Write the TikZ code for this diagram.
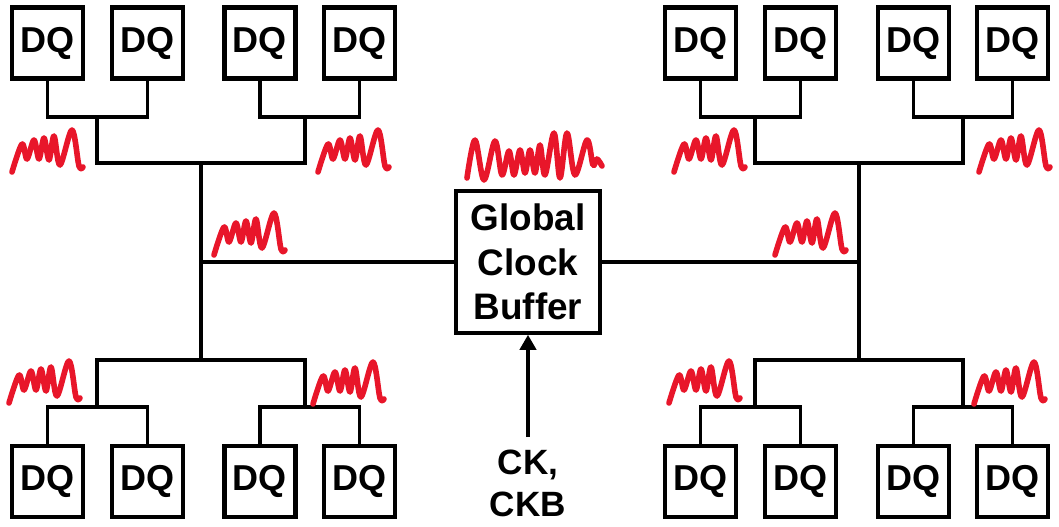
\documentclass[tikz,border=0pt]{standalone}
\usepackage{fontspec}
\setmainfont{Liberation Sans}
\usepackage{xcolor}
\usepackage{tikz}
\usetikzlibrary{arrows.meta}

\definecolor{noiseRed}{RGB}{232,22,42}

\begin{document}
\begin{tikzpicture}[
			x=0.02cm,
			y=-0.02cm,
			% Data-pin blocks
			dqBox/.style={
				rectangle,
				draw=black,
				line width=2.3pt,
				fill=white,
				minimum size=1.42cm,
				inner sep=0pt,
				font=\fontsize{20.5}{24}\selectfont\bfseries
			},
			% Central buffer
			bufferBox/.style={
				rectangle,
				draw=black,
				line width=2.3pt,
				fill=white,
				minimum width=2.87cm,
				minimum height=2.83cm,
				inner sep=0pt,
				align=center,
				font=\fontsize{21}{25.5}\selectfont\bfseries
			},
			clkLabel/.style={
				align=center,
				inner xsep=0pt,
				inner ysep=0.26cm,
				font=\fontsize{20}{23.8}\selectfont\bfseries
			},
			wire/.style={
				draw=black,
				line width=2.2pt
			},
			clkArrow/.style={
				-{Triangle[length=3mm,width=3.2mm]},
				line width=2.2pt
			},
			noise/.style={
				draw=noiseRed,
				line width=3.2pt,
				line cap=round,
				line join=round
			},
			rippleShort/.pic={
				\draw[noise] plot[smooth,tension=0.55] coordinates {
					(0,0) (10,-28) (15,-13) (22,-32) (27,-13) (32,-34)
					(37,-12) (42,-36) (48,-7) (60,-42) (67,-6) (71,-5)};
			},
			rippleLong/.pic={
				\draw[noise] plot[smooth,tension=0.55] coordinates {
					(0,0) (8,-38) (17,2) (28,-37) (35,-3) (42,-27) (47,-3)
					(53,-28) (58,-5) (63,-28) (68,-5) (73,-33) (78,-3)
					(87,-45) (93,0) (100,-45) (108,-3) (120,-38) (126,-13)
					(130,-19) (135,-12)};
			}
			]
			
			\useasboundingbox (0,0) rectangle (1059,527);
			
			% Global clock buffer and its input
			\node[bufferBox] (gcb) at (528,262) {Global\\Clock\\Buffer};
			\node[clkLabel, anchor=north] (ck) at (528,437) {CK,\\CKB};
			\draw[clkArrow] (ck) -- (gcb);
			
			% Left DQ blocks
			\node[dqBox] (tl1) at (47.5,43) {DQ};
			\node[dqBox] (tl2) at (147.5,43) {DQ};
			\node[dqBox] (tl3) at (260,43) {DQ};
			\node[dqBox] (tl4) at (359.5,43) {DQ};
			
			\node[dqBox] (bl1) at (47.5,481.5) {DQ};
			\node[dqBox] (bl2) at (147.5,481.5) {DQ};
			\node[dqBox] (bl3) at (260,481.5) {DQ};
			\node[dqBox] (bl4) at (359.5,481.5) {DQ};
			
			% Right DQ blocks
			\node[dqBox] (tr1) at (700.5,43) {DQ};
			\node[dqBox] (tr2) at (800.5,43) {DQ};
			\node[dqBox] (tr3) at (913.5,43) {DQ};
			\node[dqBox] (tr4) at (1012.5,43) {DQ};
			
			\node[dqBox] (br1) at (700.5,481.5) {DQ};
			\node[dqBox] (br2) at (800.5,481.5) {DQ};
			\node[dqBox] (br3) at (913.5,481.5) {DQ};
			\node[dqBox] (br4) at (1012.5,481.5) {DQ};
			
			% Left H-tree
			\coordinate (tlA) at (97,117);
			\coordinate (tlB) at (305,117);
			\coordinate (blA) at (97,407);
			\coordinate (blB) at (305,407);
			\coordinate (lTop) at (201,163);
			\coordinate (lMid) at (201,262);
			\coordinate (lBot) at (201,360);
			
			\draw[wire] (tl1.south) |- (tlA) -| (tl2.south);
			\draw[wire] (tl3.south) |- (tlB) -| (tl4.south);
			\draw[wire] (tlA) |- (lTop) -| (tlB);
			\draw[wire] (bl1.north) |- (blA) -| (bl2.north);
			\draw[wire] (bl3.north) |- (blB) -| (bl4.north);
			\draw[wire] (blA) |- (lBot) -| (blB);
			\draw[wire] (lTop) -- (lBot);
			\draw[wire] (lMid) -- (gcb.west);
			
			% Right H-tree
			\coordinate (trA) at (755,117);
			\coordinate (trB) at (963,117);
			\coordinate (brA) at (755,407);
			\coordinate (brB) at (963,407);
			\coordinate (rTop) at (859,163);
			\coordinate (rMid) at (859,262);
			\coordinate (rBot) at (859,360);
			
			\draw[wire] (tr1.south) |- (trA) -| (tr2.south);
			\draw[wire] (tr3.south) |- (trB) -| (tr4.south);
			\draw[wire] (trA) |- (rTop) -| (trB);
			\draw[wire] (br1.north) |- (brA) -| (br2.north);
			\draw[wire] (br3.north) |- (brB) -| (br4.north);
			\draw[wire] (brA) |- (rBot) -| (brB);
			\draw[wire] (rTop) -- (rBot);
			\draw[wire] (rMid) -- (gcb.east);
			
			% Clock noise waveforms
			\pic at (467,178) {rippleLong};
			
			\pic at (12,172) {rippleShort};
			\pic at (318,172) {rippleShort};
			\pic at (214,255) {rippleShort};
			\pic at (9,403) {rippleShort};
			\pic at (313,404) {rippleShort};
			
			\pic at (674,172) {rippleShort};
			\pic at (979,172) {rippleShort};
			\pic at (775,255) {rippleShort};
			\pic at (669,403) {rippleShort};
			\pic at (974,404) {rippleShort};
			
		\end{tikzpicture}
\end{document}
